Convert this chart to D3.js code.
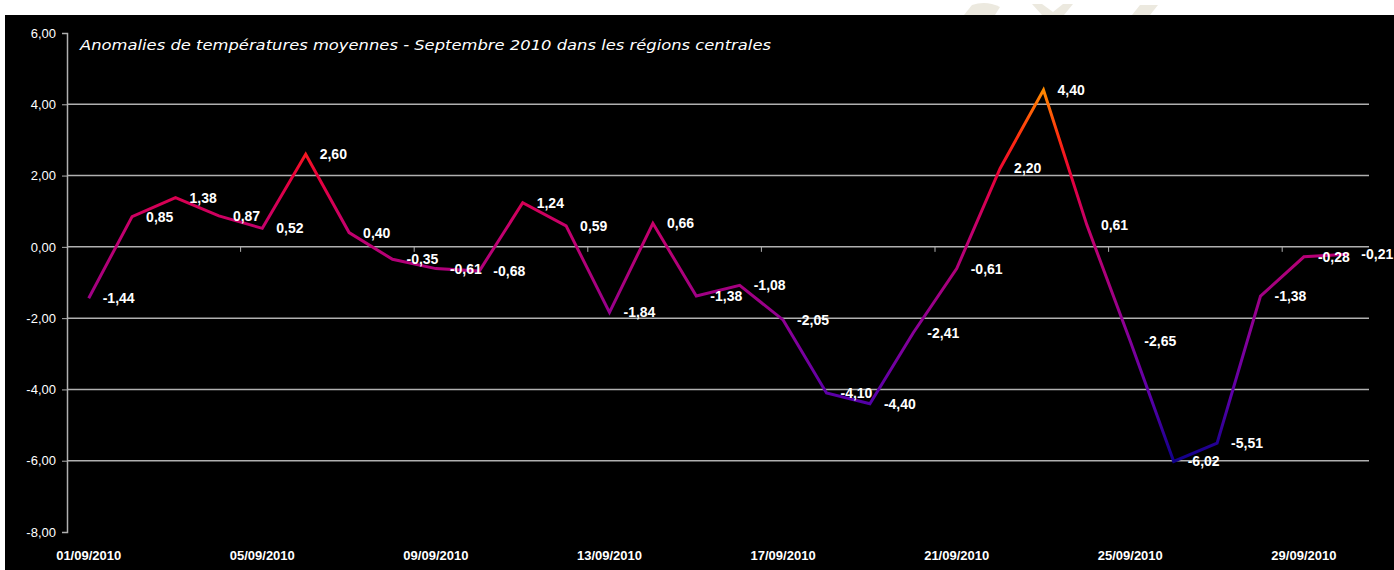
<!DOCTYPE html>
<html>
<head>
<meta charset="utf-8">
<script src="https://cdn.jsdelivr.net/npm/d3@7"></script>
<style>
  body { margin: 0; background: #fff; }
  svg { display: block; }
</style>
</head>
<body>
<div id="chart-area"></div>
<script>
// Data: daily anomalies, September 2010
var days = d3.range(1, 31).map(d => d3.format("02")(d) + "/09/2010");
var values = [-1.44, 0.85, 1.38, 0.87, 0.52, 2.60, 0.40, -0.35, -0.61, -0.68,
              1.24, 0.59, -1.84, 0.66, -1.38, -1.08, -2.05, -4.10, -4.40, -2.41,
              -0.61, 2.20, 4.40, 0.61, -2.65, -6.02, -5.51, -1.38, -0.28, -0.21];
var yTicks = [6, 4, 2, 0, -2, -4, -6, -8];
var title = "Anomalies de températures moyennes - Septembre 2010 dans les régions centrales";

var W = 1394, H = 570;
var plotL = 67, plotR = 1369, plotT = 33, plotB = 532;

var svg = d3.select("#chart-area").append("svg")
    .attr("width", W)
    .attr("height", H);

// watermark bits in the white strip at the top
var wm = svg.append("g").attr("fill", "#ece9df");
wm.append("path").attr("d", "M964,15 L972,5 Q986,0 1000,7 L995,15 Z");
wm.append("path").attr("d", "M1032,4 L1042,4 L1053,12 L1063,4 L1073,4 L1064,15 L1042,15 Z");
wm.append("path").attr("d", "M1132,15 L1140,5 L1158,5 L1150,15 Z");

// black chart background
svg.append("rect")
    .attr("x", 5).attr("y", 15)
    .attr("width", W - 5).attr("height", H - 15)
    .attr("fill", "#000");

var x = d3.scaleBand()
    .domain(days)
    .range([plotL, plotR]);

var y = d3.scaleLinear()
    .domain([-8, 6])
    .range([plotB, plotT]);

var fmt = v => d3.format(".2f")(v).replace(".", ",").replace("\u2212", "-");

// horizontal gridlines
svg.append("g")
    .selectAll("line")
    .data(yTicks.filter(t => t > -8 && t < 6))
    .enter()
    .append("line")
    .attr("x1", plotL).attr("x2", plotR)
    .attr("y1", d => y(d)).attr("y2", d => y(d))
    .attr("stroke", "#b0b0b0")
    .attr("stroke-width", 1.5);

// y axis
var yAxis = svg.append("g")
    .attr("transform", `translate(${plotL},0)`)
    .call(d3.axisLeft(y).tickValues(yTicks).tickSize(5).tickFormat(fmt));
yAxis.select(".domain").attr("stroke", "#b0b0b0").attr("stroke-width", 1.5);
yAxis.selectAll(".tick line").attr("stroke", "#b0b0b0");
yAxis.selectAll("text")
    .attr("fill", "#fff")
    .attr("font-family", "Liberation Sans, Arial, sans-serif")
    .attr("font-size", "13px")
    .attr("dx", "-3");

// x axis ticks hang from the zero line (every 4 days, at band edges)
var tickDays = days.filter((d, i) => i % 4 === 0 && i > 0);
svg.append("g")
    .selectAll("line")
    .data(tickDays)
    .enter()
    .append("line")
    .attr("x1", d => x(d)).attr("x2", d => x(d))
    .attr("y1", y(0)).attr("y2", y(0) + 5)
    .attr("stroke", "#b0b0b0");

// x labels at the bottom
svg.append("g")
    .selectAll("text")
    .data(days.filter((d, i) => i % 4 === 0))
    .enter()
    .append("text")
    .attr("x", d => x(d) + x.bandwidth() / 2)
    .attr("y", 560)
    .attr("text-anchor", "middle")
    .attr("fill", "#fff")
    .attr("font-family", "Liberation Sans, Arial, sans-serif")
    .attr("font-weight", "bold")
    .attr("font-size", "13px")
    .text(d => d);

// title
svg.append("text")
    .attr("x", 80)
    .attr("y", 50)
    .attr("fill", "#fff")
    .attr("font-family", "DejaVu Sans, Verdana, sans-serif")
    .attr("font-style", "italic")
    .attr("font-size", "14px")
    .attr("textLength", 691)
    .attr("lengthAdjust", "spacingAndGlyphs")
    .text(title);

// value gradient for the line (blue low, red / orange high)
var grad = svg.append("defs").append("linearGradient")
    .attr("id", "lineGrad")
    .attr("gradientUnits", "userSpaceOnUse")
    .attr("x1", 0).attr("x2", 0)
    .attr("y1", y(4.4)).attr("y2", y(-6.02));
var stops = [
    [4.4, "#ff8a00"],
    [3.0, "#ff2a10"],
    [2.0, "#e8003a"],
    [0.5, "#c4006e"],
    [-1.0, "#a8007e"],
    [-2.5, "#86009a"],
    [-4.2, "#5a00a8"],
    [-6.02, "#10008a"]
];
grad.selectAll("stop")
    .data(stops)
    .enter()
    .append("stop")
    .attr("offset", d => (4.4 - d[0]) / (4.4 + 6.02))
    .attr("stop-color", d => d[1]);

var line = d3.line()
    .x((d, i) => x(days[i]) + x.bandwidth() / 2)
    .y(d => y(d));

svg.append("path")
    .datum(values)
    .attr("d", line)
    .attr("fill", "none")
    .attr("stroke", "url(#lineGrad)")
    .attr("stroke-width", 3)
    .attr("stroke-linejoin", "miter");

// data labels, to the right of each point
svg.append("g")
    .selectAll("text")
    .data(values)
    .enter()
    .append("text")
    .attr("x", (d, i) => x(days[i]) + x.bandwidth() / 2 + 14)
    .attr("y", d => y(d) + 5)
    .attr("fill", "#fff")
    .attr("font-family", "Liberation Sans, Arial, sans-serif")
    .attr("font-weight", "bold")
    .attr("font-size", "14px")
    .text(d => fmt(d));
</script>
</body>
</html>
